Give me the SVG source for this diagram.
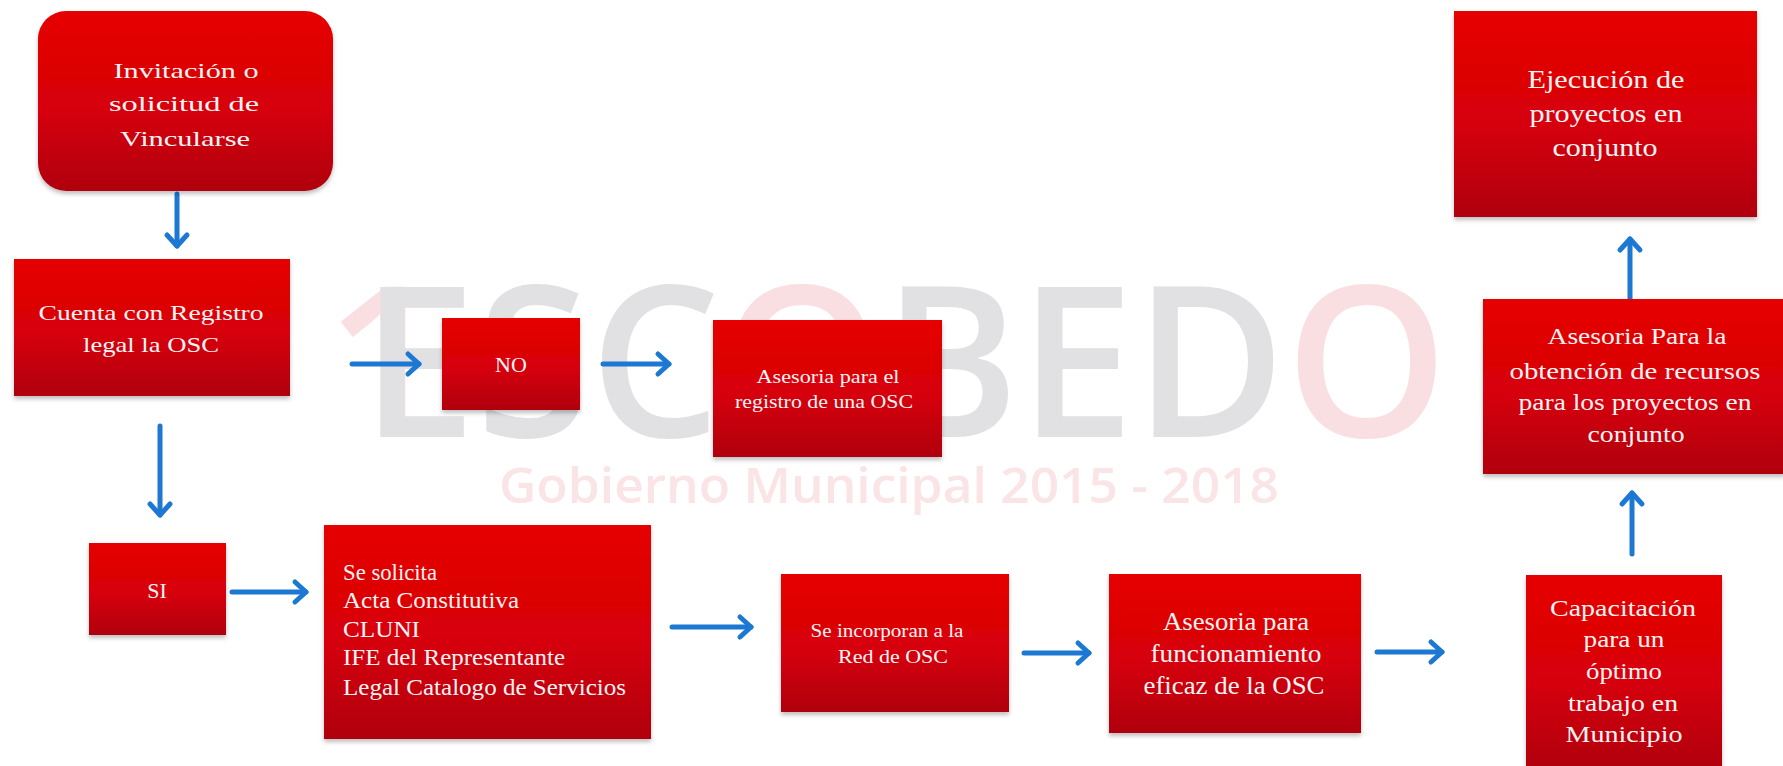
<svg xmlns="http://www.w3.org/2000/svg" width="1783" height="766" viewBox="0 0 1783 766">
<defs>
<linearGradient id="red" x1="0" y1="0" x2="0" y2="1">
<stop offset="0" stop-color="#e60202"/>
<stop offset="0.55" stop-color="#d60008"/>
<stop offset="1" stop-color="#b0000f"/>
</linearGradient>
<filter id="sh" x="-5%" y="-5%" width="110%" height="115%">
<feDropShadow dx="0" dy="3" stdDeviation="2" flood-color="#000" flood-opacity="0.25"/>
</filter>
<marker id="ah" markerUnits="userSpaceOnUse" markerWidth="30" markerHeight="30" viewBox="-15 -15 30 30" refX="0" refY="0" orient="auto">
<path d="M-11,-10 L0,0 L-11,10" fill="none" stroke="#1c78d2" stroke-width="5" stroke-linecap="round" stroke-linejoin="round"/>
</marker>
</defs>
<style>
.box{fill:url(#red);filter:url(#sh)}
.t{font-family:"Liberation Serif","Times New Roman",serif;fill:#fff4f4;text-anchor:middle}
.tl{font-family:"Liberation Serif","Times New Roman",serif;fill:#fff4f4;text-anchor:start}
.c{fill:none;stroke:#1c78d2;stroke-width:5;stroke-linecap:round;marker-end:url(#ah)}
.wm{font-family:"Open Sans","DejaVu Sans",sans-serif;font-weight:600}
</style>
<rect width="1783" height="766" fill="#ffffff"/>
<g id="watermark">
<text class="wm" x="325" y="437" font-size="210" font-weight="400" fill="#fadfe2">1</text>
<text class="wm" x="361" y="437" font-size="210" fill="#e1e1e3" textLength="1087" lengthAdjust="spacingAndGlyphs">ESC<tspan fill="#fadfe2">O</tspan>BED<tspan fill="#fadfe2">O</tspan></text>
<text class="wm" x="499" y="503" font-size="48" font-weight="400" fill="#fae4e6" textLength="780" lengthAdjust="spacingAndGlyphs">Gobierno Municipal 2015 - 2018</text>
</g>
<g id="connectors">
<line class="c" x1="177" y1="194" x2="177" y2="246"/>
<line class="c" x1="352" y1="364" x2="419" y2="364"/>
<line class="c" x1="603" y1="364" x2="669" y2="364"/>
<line class="c" x1="160" y1="426" x2="160" y2="515"/>
<line class="c" x1="232" y1="592" x2="306" y2="592"/>
<line class="c" x1="672" y1="627" x2="751" y2="627"/>
<line class="c" x1="1024" y1="653" x2="1089" y2="653"/>
<line class="c" x1="1377" y1="652" x2="1442" y2="652"/>
<line class="c" x1="1632" y1="554" x2="1632" y2="493"/>
<line class="c" x1="1630" y1="299" x2="1630" y2="239"/>
</g>
<g id="n1">
<rect class="box" x="38" y="11" width="295" height="180" rx="28"/>
<text class="t" font-size="22"><tspan x="186" y="78" textLength="145" lengthAdjust="spacingAndGlyphs">Invitación o</tspan><tspan x="184" y="111" textLength="150" lengthAdjust="spacingAndGlyphs">solicitud  de</tspan><tspan x="185" y="146" textLength="130" lengthAdjust="spacingAndGlyphs">Vincularse</tspan></text>
</g>
<g id="n2">
<rect class="box" x="14" y="259" width="276" height="137"/>
<text class="t" font-size="22"><tspan x="151" y="320" textLength="225" lengthAdjust="spacingAndGlyphs">Cuenta con Registro</tspan><tspan x="151" y="352" textLength="136" lengthAdjust="spacingAndGlyphs">legal la OSC</tspan></text>
</g>
<g id="n3">
<rect class="box" x="442" y="318" width="138" height="92"/>
<text class="t" font-size="22" x="511" y="372">NO</text>
</g>
<g id="n4">
<rect class="box" x="713" y="320" width="229" height="137"/>
<text class="t" font-size="19"><tspan x="828" y="383" textLength="143" lengthAdjust="spacingAndGlyphs">Asesoria para el</tspan><tspan x="824" y="408" textLength="178" lengthAdjust="spacingAndGlyphs">registro de una OSC</tspan></text>
</g>
<g id="n5">
<rect class="box" x="89" y="543" width="137" height="92"/>
<text class="t" font-size="22" x="157" y="598">SI</text>
</g>
<g id="n6">
<rect class="box" x="324" y="525" width="327" height="214"/>
<text class="tl" font-size="23"><tspan x="343" y="580" textLength="94" lengthAdjust="spacingAndGlyphs">Se solicita</tspan><tspan x="343" y="608" textLength="176" lengthAdjust="spacingAndGlyphs">Acta Constitutiva</tspan><tspan x="343" y="637" textLength="77" lengthAdjust="spacingAndGlyphs">CLUNI</tspan><tspan x="343" y="665" textLength="222" lengthAdjust="spacingAndGlyphs">IFE del Representante</tspan><tspan x="343" y="695" textLength="283" lengthAdjust="spacingAndGlyphs">Legal Catalogo de Servicios</tspan></text>
</g>
<g id="n7">
<rect class="box" x="781" y="574" width="228" height="138"/>
<text class="t" font-size="19"><tspan x="887" y="637" textLength="153" lengthAdjust="spacingAndGlyphs">Se incorporan a la</tspan><tspan x="893" y="663" textLength="110" lengthAdjust="spacingAndGlyphs">Red de OSC</tspan></text>
</g>
<g id="n8">
<rect class="box" x="1109" y="574" width="252" height="159"/>
<text class="t" font-size="25"><tspan x="1236" y="630" textLength="146" lengthAdjust="spacingAndGlyphs">Asesoria para</tspan><tspan x="1236" y="662" textLength="171" lengthAdjust="spacingAndGlyphs">funcionamiento</tspan><tspan x="1234" y="694" textLength="181" lengthAdjust="spacingAndGlyphs">eficaz de la OSC</tspan></text>
</g>
<g id="n9">
<rect class="box" x="1526" y="575" width="196" height="195"/>
<text class="t" font-size="24"><tspan x="1623" y="616" textLength="146" lengthAdjust="spacingAndGlyphs">Capacitación</tspan><tspan x="1624" y="647" textLength="81" lengthAdjust="spacingAndGlyphs">para un</tspan><tspan x="1624" y="679" textLength="76" lengthAdjust="spacingAndGlyphs">óptimo</tspan><tspan x="1623" y="711" textLength="110" lengthAdjust="spacingAndGlyphs">trabajo en</tspan><tspan x="1624" y="742" textLength="117" lengthAdjust="spacingAndGlyphs">Municipio</tspan></text>
</g>
<g id="n10">
<rect class="box" x="1483" y="299" width="302" height="175"/>
<text class="t" font-size="24"><tspan x="1637" y="344" textLength="179" lengthAdjust="spacingAndGlyphs">Asesoria Para la</tspan><tspan x="1635" y="379" textLength="251" lengthAdjust="spacingAndGlyphs">obtención de  recursos</tspan><tspan x="1635" y="410" textLength="233" lengthAdjust="spacingAndGlyphs">para los proyectos en</tspan><tspan x="1636" y="442" textLength="97" lengthAdjust="spacingAndGlyphs">conjunto</tspan></text>
</g>
<g id="n11">
<rect class="box" x="1454" y="11" width="303" height="206"/>
<text class="t" font-size="25"><tspan x="1606" y="88" textLength="157" lengthAdjust="spacingAndGlyphs">Ejecución de</tspan><tspan x="1606" y="122" textLength="153" lengthAdjust="spacingAndGlyphs">proyectos en</tspan><tspan x="1605" y="156" textLength="105" lengthAdjust="spacingAndGlyphs">conjunto</tspan></text>
</g>
</svg>
